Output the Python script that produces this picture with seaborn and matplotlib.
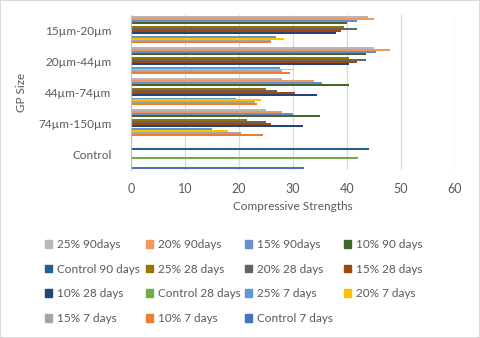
import pandas as pd
import matplotlib.pyplot as plt
import seaborn as sns

# GP size groups, top to bottom as in the chart
sizes = ["15µm-20µm", "20µm-44µm", "44µm-74µm", "74µm-150µm"]
categories = sizes + ["Control"]

# replacement levels (columns of the value tables below)
levels = ["10%", "15%", "20%", "25%"]

# compressive strength per GP size (rows) and level (cols)
str_7d = [
    [25.9, 26.0, 28.4, 26.9],
    [29.4, 28.0, 29.9, 27.6],
    [23.4, 23.0, 24.0, 19.4],
    [24.4, 20.3, 17.9, 14.9],
]
str_28d = [
    [38.0, 38.8, 41.9, 39.5],
    [40.3, 41.9, 43.5, 40.3],
    [34.4, 30.4, 27.0, 25.0],
    [31.8, 25.9, 25.0, 21.4],
]
str_90d = [
    [40.0, 41.9, 44.9, 43.9],
    [43.5, 45.4, 47.9, 44.9],
    [40.4, 35.4, 33.8, 28.0],
    [35.0, 29.9, 28.0, 25.0],
]
# control mix: 7, 28, 90 days
control = [32.0, 42.0, 44.0]

age_tags = [("7 days", str_7d), ("28 days", str_28d), ("90days", str_90d)]

# legend order (also top-to-bottom order of bars inside a group)
legend_order = [
    "25% 90days", "20% 90days", "15% 90days", "10% 90 days",
    "Control 90 days", "25% 28 days", "20% 28 days", "15% 28 days",
    "10% 28 days", "Control 28 days", "25% 7 days", "20% 7 days",
    "15% 7 days", "10% 7 days", "Control 7 days",
]
colors = [
    "#B7B7B7", "#F1975A", "#698ED0", "#43682B",
    "#255E91", "#997300", "#636363", "#9E480E",
    "#264478", "#70AD47", "#5B9BD5", "#FFC000",
    "#A5A5A5", "#ED7D31", "#4472C4",
]
palette = dict(zip(legend_order, colors))

# long-form table
rows = []
for age, table in age_tags:
    for i, size in enumerate(sizes):
        for j, lev in enumerate(levels):
            name = f"{lev} {age}"
            if name == "10% 90days":
                name = "10% 90 days"
            rows.append({"GP Size": size, "Series": name, "Strength": table[i][j]})
for name, val in zip(["Control 7 days", "Control 28 days", "Control 90 days"], control):
    rows.append({"GP Size": "Control", "Series": name, "Strength": val})
df = pd.DataFrame(rows)

sns.set_style("white")
plt.rcParams["font.family"] = ["Lato", "DejaVu Sans"]

fig = plt.figure(figsize=(4.8, 3.38), dpi=100, linewidth=1.2, edgecolor="#D9D9D9")
ax = fig.add_axes([0.273, 0.497, 0.675, 0.458])

sns.barplot(data=df, y="GP Size", x="Strength", hue="Series",
            order=categories, hue_order=legend_order, palette=palette,
            orient="h", width=0.95, saturation=1, errorbar=None,
            linewidth=0, edgecolor="none", legend=False, ax=ax)

ax.set_xlim(0, 60)
ax.set_xticks(range(0, 61, 10))
ax.grid(axis="x", color="#D9D9D9", linewidth=0.9)
ax.set_axisbelow(True)
for s in ["top", "right", "bottom"]:
    ax.spines[s].set_visible(False)
ax.spines["left"].set_color("#BFBFBF")
ax.tick_params(axis="y", length=0, labelsize=8.5, colors="#595959", pad=14)
ax.tick_params(axis="x", length=0, labelsize=9, colors="#595959", pad=9)
ax.set_xlabel("Compressive Strengths", fontsize=8.5, color="#595959", labelpad=5)
ax.set_ylabel("GP Size", fontsize=8.5, color="#595959")
ax.yaxis.set_label_coords(-0.32, 0.5)

# legend: 4 evenly spaced columns, filled row by row
ncol = 4
col_x = [45, 146, 245, 344]
for c in range(ncol):
    names = legend_order[c::ncol]
    hs = [plt.Rectangle((0, 0), 1, 1, color=palette[n]) for n in names]
    fig.legend(hs, names, loc="upper left",
               bbox_to_anchor=(col_x[c] / 480, 0.293),
               frameon=False, fontsize=8.5, borderpad=0, borderaxespad=0,
               handlelength=0.6, handleheight=0.6, handletextpad=0.45,
               labelspacing=1.16, labelcolor="#595959")

fig.savefig("out.png", dpi=100)
